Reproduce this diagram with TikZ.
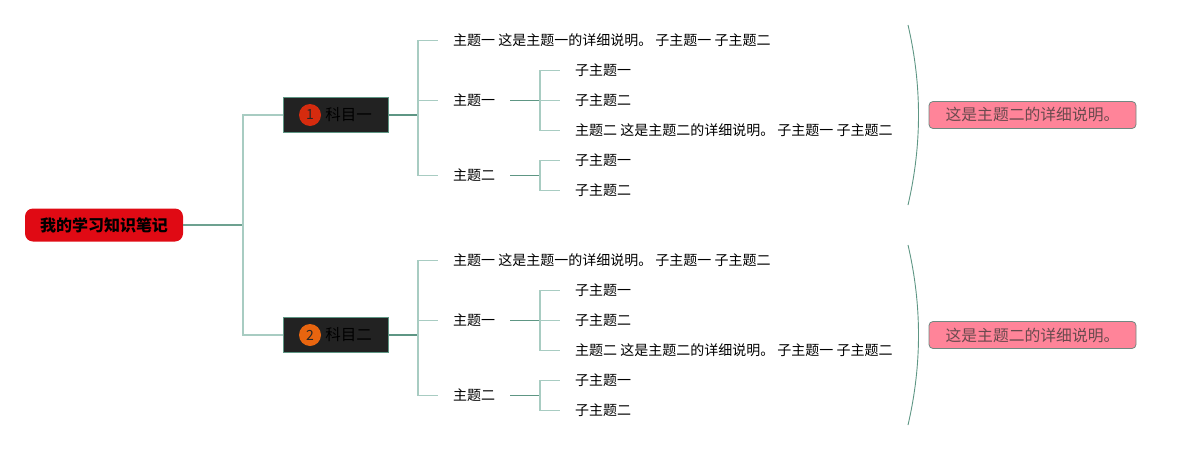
\documentclass[tikz,border=0pt]{standalone}
\usepackage{fontspec}
\setmainfont{Noto Sans CJK SC}
\definecolor{twigc}{HTML}{A8CCC2}
\definecolor{limbc}{HTML}{5E9684}
\definecolor{rootc}{HTML}{E00A14}
\definecolor{subjc}{HTML}{222222}
\definecolor{notec}{HTML}{FF8499}
\definecolor{notetxt}{HTML}{6A4A4E}
\definecolor{badgea}{HTML}{D52B0E}
\definecolor{badgeb}{HTML}{E8650F}
\begin{document}
\begin{tikzpicture}[x=1pt,y=-1pt,
  twig/.style={draw=twigc,line width=1.2pt},
  limb/.style={draw=limbc,line width=1.4pt},
  rootbox/.style={fill=rootc,rounded corners=8pt,minimum width=158pt,minimum height=33pt,
    inner sep=0pt,font=\fontsize{16}{18}\selectfont\bfseries},
  subjbox/.style={fill=subjc,draw=limbc,line width=.8pt,minimum width=105pt,minimum height=35pt,inner sep=0pt},
  badge/.style={circle,inner sep=0pt,minimum size=22pt,font=\fontsize{14}{16}\selectfont,text=black!85},
  subjtxt/.style={inner sep=0pt,font=\fontsize{15.5}{17}\selectfont},
  topic/.style={anchor=west,inner xsep=15pt,inner ysep=2pt,font=\fontsize{14}{16}\selectfont},
  note/.style={fill=notec,draw=gray!60!limbc,line width=.8pt,rounded corners=4pt,minimum width=207pt,
    minimum height=27pt,inner sep=0pt,text=notetxt,font=\fontsize{15.8}{17}\selectfont}]
\useasboundingbox (0,0) rectangle (1181,450);
% central topic
\node[rootbox] (root) at (104,225) {我的学习知识笔记};
\coordinate (j0) at (243,225);
\draw[limb,draw=limbc!80!twigc] (root.east) -- (j0);
%
\foreach \g/\dy/\bc/\nm in {1/0/badgea/科目一, 2/220/badgeb/科目二}{
  % subject
  \node[subjbox] (s\g) at (335.5,115+\dy) {};
  \node[badge,fill=\bc] (s\g n) at (310,115+\dy) {\g};
  \node[subjtxt] (s\g t) at (348.5,115+\dy) {\nm};
  \draw[twig] (j0) |- (s\g.west);
  \coordinate (k\g) at (418,115+\dy);
  \draw[limb] (s\g.east) -- (k\g);
  % topics
  \node[topic] (t\g a) at (438,40.5+\dy) {主题一 这是主题一的详细说明。 子主题一 子主题二};
  \node[topic] (t\g b) at (438,100.5+\dy) {主题一};
  \node[topic] (t\g c) at (438,175.5+\dy) {主题二};
  \draw[twig] (k\g) |- (t\g a.west);
  \draw[twig] (k\g) |- (t\g b.west);
  \draw[twig] (k\g) |- (t\g c.west);
  % subtopics
  \coordinate (m\g b) at (540,100.5+\dy);
  \coordinate (m\g c) at (540,175.5+\dy);
  \node[topic] (u\g a) at (560,70.5+\dy) {子主题一};
  \node[topic] (u\g b) at (560,100.5+\dy) {子主题二};
  \node[topic] (u\g c) at (560,130.5+\dy) {主题二 这是主题二的详细说明。 子主题一 子主题二};
  \node[topic] (u\g d) at (560,160.5+\dy) {子主题一};
  \node[topic] (u\g e) at (560,190.5+\dy) {子主题二};
  \draw[limb] (t\g b.east) -- (m\g b);
  \draw[limb] (t\g c.east) -- (m\g c);
  \draw[twig] (m\g b) |- (u\g a.west);
  \draw[twig] (m\g b) |- (u\g b.west);
  \draw[twig] (m\g b) |- (u\g c.west);
  \draw[twig] (m\g c) |- (u\g d.west);
  \draw[twig] (m\g c) |- (u\g e.west);
  % summary
  \coordinate (b\g top) at (908,25+\dy);
  \coordinate (b\g bot) at (908,205+\dy);
  \draw[limbc,line width=.9pt] (b\g top) .. controls (922,85+\dy) and (922,145+\dy) .. (b\g bot);
  \node[note] (n\g) at (1032.5,115+\dy) {这是主题二的详细说明。};
}
\end{tikzpicture}
\end{document}
